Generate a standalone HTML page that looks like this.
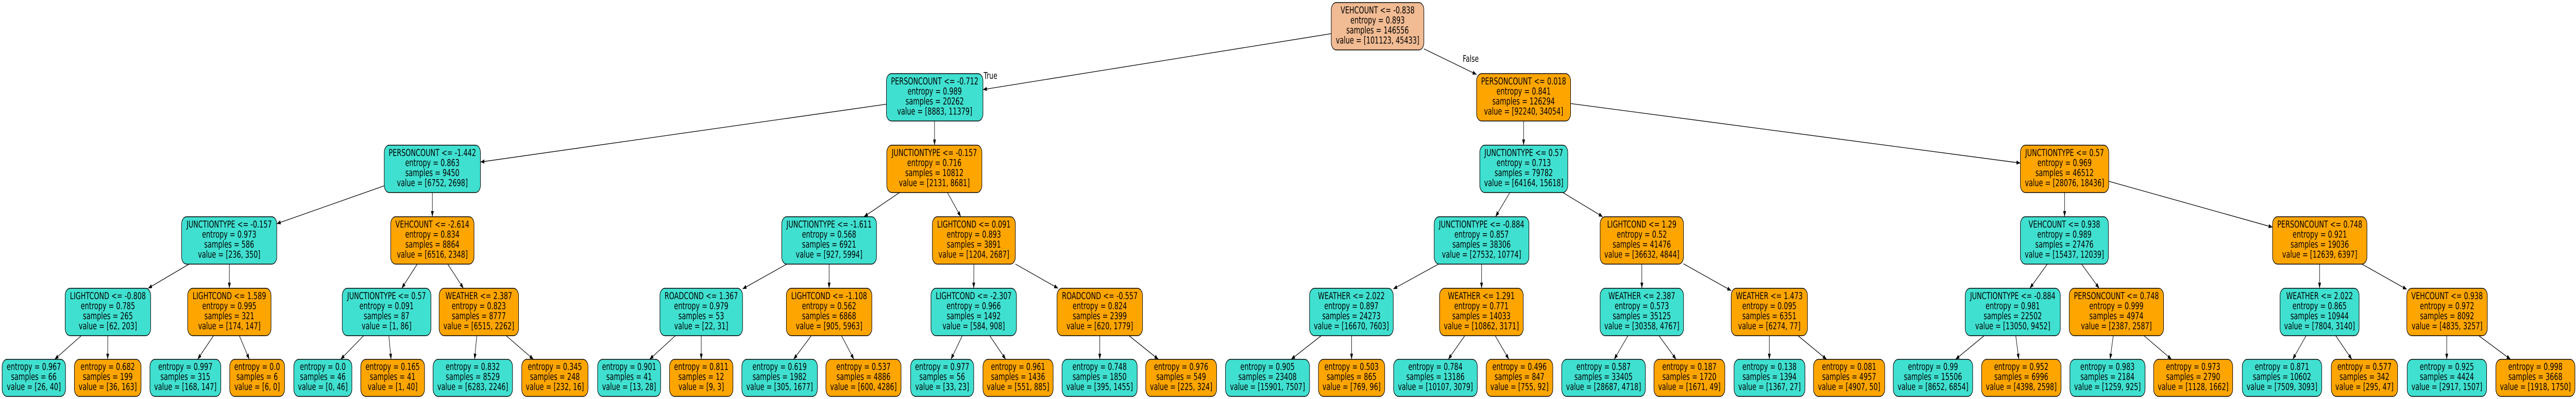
<!DOCTYPE html>
<html><head><meta charset="utf-8"><meta name="viewport" content="width=7233">
<style>
html,body{margin:0;padding:0;background:#fff;overflow:hidden;width:100vw;height:100vh;}
svg{display:block;position:absolute;left:0;top:0;width:100vw;height:100vh;}
text{font-family:"DejaVu Sans","Liberation Sans",sans-serif;font-size:18.6px;fill:#000;text-anchor:middle;}
.t{fill:#40e0d0;stroke:#000;stroke-width:1.4;}
.o{fill:#ffa500;stroke:#000;stroke-width:1.4;}
.r{fill:#f1bb93;stroke:#000;stroke-width:1.4;}
line{stroke:#000;stroke-width:1.3;}
.lb{text-anchor:start;font-size:18px;}
</style></head><body>
<svg viewBox="0 0 7233 775" preserveAspectRatio="none" xmlns="http://www.w3.org/2000/svg">
<defs><marker id="a" markerUnits="userSpaceOnUse" markerWidth="12" markerHeight="10" refX="11" refY="4" orient="auto"><path d="M0,0 L11,4 L0,8 z" fill="#000"/></marker></defs>
<g marker-end="url(#a)">
<line x1="3738" y1="65.4" x2="2760" y2="174"/>
<line x1="3998" y1="94.8" x2="4146" y2="144.6"/>
<line x1="2489" y1="202.4" x2="1349" y2="314.7"/>
<line x1="2624" y1="235" x2="2624" y2="282"/>
<line x1="4278" y1="235" x2="4278" y2="282"/>
<line x1="4410" y1="201.1" x2="5673" y2="316.7"/>
<line x1="1079" y1="360.9" x2="777" y2="434.5"/>
<line x1="1214" y1="374" x2="1214" y2="421"/>
<line x1="2525.7" y1="374" x2="2425.8" y2="421"/>
<line x1="2660.2" y1="374" x2="2697.8" y2="421"/>
<line x1="4239.3" y1="374" x2="4199.2" y2="421"/>
<line x1="4388.2" y1="374" x2="4500.3" y2="421"/>
<line x1="5797" y1="374" x2="5797" y2="421"/>
<line x1="5921" y1="352.1" x2="6381" y2="441.3"/>
<line x1="530.8" y1="513" x2="415.7" y2="560"/>
<line x1="644" y1="513" x2="644" y2="560"/>
<line x1="1171.5" y1="513" x2="1128" y2="560"/>
<line x1="1257.2" y1="513" x2="1301.3" y2="560"/>
<line x1="2209.2" y1="513" x2="2085" y2="561.1"/>
<line x1="2328" y1="513" x2="2328" y2="560"/>
<line x1="2734.5" y1="513" x2="2734" y2="560"/>
<line x1="2851" y1="512.8" x2="2971" y2="560"/>
<line x1="4039" y1="513" x2="3912" y2="561.3"/>
<line x1="4160" y1="513" x2="4160" y2="560"/>
<line x1="4610" y1="513" x2="4610" y2="560"/>
<line x1="4727" y1="512.4" x2="4861" y2="564.5"/>
<line x1="5748.5" y1="513" x2="5699.5" y2="560"/>
<line x1="5844.8" y1="513" x2="5894.2" y2="560"/>
<line x1="6513" y1="513" x2="6513" y2="560"/>
<line x1="6631.9" y1="513" x2="6758" y2="562.1"/>
<line x1="228.3" y1="652" x2="153.4" y2="698"/>
<line x1="302.6" y1="652" x2="302.3" y2="698"/>
<line x1="599.5" y1="652" x2="554.8" y2="698"/>
<line x1="672" y1="652" x2="700.1" y2="698"/>
<line x1="1021.1" y1="652" x2="956.4" y2="698"/>
<line x1="1091.8" y1="652" x2="1098.1" y2="698"/>
<line x1="1338.6" y1="652" x2="1332.6" y2="698"/>
<line x1="1421.1" y1="652" x2="1498" y2="698"/>
<line x1="1896.5" y1="652" x2="1823.8" y2="698"/>
<line x1="1969" y1="652" x2="1969" y2="698"/>
<line x1="2278.1" y1="652" x2="2228.1" y2="698"/>
<line x1="2362.8" y1="652" x2="2397.7" y2="698"/>
<line x1="2702" y1="652" x2="2670" y2="698"/>
<line x1="2778.9" y1="652" x2="2823.9" y2="698"/>
<line x1="3088" y1="652" x2="3088" y2="698"/>
<line x1="3170.2" y1="652" x2="3252.6" y2="698"/>
<line x1="3710" y1="652" x2="3625.2" y2="698"/>
<line x1="3795" y1="652" x2="3795" y2="698"/>
<line x1="4113" y1="652" x2="4066.4" y2="698"/>
<line x1="4198.1" y1="652" x2="4236.8" y2="698"/>
<line x1="4571.2" y1="652" x2="4532.3" y2="698"/>
<line x1="4658.1" y1="652" x2="4706.3" y2="698"/>
<line x1="4968" y1="652" x2="4968" y2="698"/>
<line x1="5048.4" y1="652" x2="5129" y2="698"/>
<line x1="5571.3" y1="652" x2="5490.8" y2="698"/>
<line x1="5659.9" y1="652" x2="5668.4" y2="698"/>
<line x1="5933.7" y1="652" x2="5924.9" y2="698"/>
<line x1="6019.9" y1="652" x2="6097.4" y2="698"/>
<line x1="6475.3" y1="652" x2="6437.5" y2="698"/>
<line x1="6558.2" y1="652" x2="6603.6" y2="698"/>
<line x1="6870" y1="652" x2="6870" y2="698"/>
<line x1="6960" y1="652" x2="7049.3" y2="698"/>
</g>
<text class="lb" x="2762" y="153">True</text>
<text class="lb" x="4107" y="120">False</text>

<rect class="r" x="3738" y="5" width="260" height="92" rx="14"/>
<text x="3868" y="26">VEHCOUNT &lt;= -0.838</text><text x="3868" y="45.5">entropy = 0.893</text><text x="3868" y="65">samples = 146556</text><text x="3868" y="84.5">value = [101123, 45433]</text>

<rect class="t" x="2489" y="143" width="271" height="92" rx="14"/>
<text x="2624.5" y="164">PERSONCOUNT &lt;= -0.712</text><text x="2624.5" y="183.5">entropy = 0.989</text><text x="2624.5" y="203">samples = 20262</text><text x="2624.5" y="222.5">value = [8883, 11379]</text>
<rect class="o" x="4146" y="143" width="264" height="92" rx="14"/>
<text x="4278" y="164">PERSONCOUNT &lt;= 0.018</text><text x="4278" y="183.5">entropy = 0.841</text><text x="4278" y="203">samples = 126294</text><text x="4278" y="222.5">value = [92240, 34054]</text>

<rect class="t" x="1079" y="282" width="270" height="92" rx="14"/>
<text x="1214" y="303">PERSONCOUNT &lt;= -1.442</text><text x="1214" y="322.5">entropy = 0.863</text><text x="1214" y="342">samples = 9450</text><text x="1214" y="361.5">value = [6752, 2698]</text>
<rect class="o" x="2490" y="282" width="267" height="92" rx="14"/>
<text x="2623.5" y="303">JUNCTIONTYPE &lt;= -0.157</text><text x="2623.5" y="322.5">entropy = 0.716</text><text x="2623.5" y="342">samples = 10812</text><text x="2623.5" y="361.5">value = [2131, 8681]</text>
<rect class="t" x="4155" y="282" width="247" height="92" rx="14"/>
<text x="4278.5" y="303">JUNCTIONTYPE &lt;= 0.57</text><text x="4278.5" y="322.5">entropy = 0.713</text><text x="4278.5" y="342">samples = 79782</text><text x="4278.5" y="361.5">value = [64164, 15618]</text>
<rect class="o" x="5673" y="282" width="248" height="92" rx="14"/>
<text x="5797" y="303">JUNCTIONTYPE &lt;= 0.57</text><text x="5797" y="322.5">entropy = 0.969</text><text x="5797" y="342">samples = 46512</text><text x="5797" y="361.5">value = [28076, 18436]</text>

<rect class="t" x="510" y="421" width="267" height="92" rx="14"/>
<text x="643.5" y="442">JUNCTIONTYPE &lt;= -0.157</text><text x="643.5" y="461.5">entropy = 0.973</text><text x="643.5" y="481">samples = 586</text><text x="643.5" y="500.5">value = [236, 350]</text>
<rect class="o" x="1097" y="421" width="234" height="92" rx="14"/>
<text x="1214" y="442">VEHCOUNT &lt;= -2.614</text><text x="1214" y="461.5">entropy = 0.834</text><text x="1214" y="481">samples = 8864</text><text x="1214" y="500.5">value = [6516, 2348]</text>
<rect class="t" x="2195" y="421" width="266" height="92" rx="14"/>
<text x="2328" y="442">JUNCTIONTYPE &lt;= -1.611</text><text x="2328" y="461.5">entropy = 0.568</text><text x="2328" y="481">samples = 6921</text><text x="2328" y="500.5">value = [927, 5994]</text>
<rect class="o" x="2618" y="421" width="233" height="92" rx="14"/>
<text x="2734.5" y="442">LIGHTCOND &lt;= 0.091</text><text x="2734.5" y="461.5">entropy = 0.893</text><text x="2734.5" y="481">samples = 3891</text><text x="2734.5" y="500.5">value = [1204, 2687]</text>
<rect class="t" x="4027" y="421" width="266" height="92" rx="14"/>
<text x="4160" y="442">JUNCTIONTYPE &lt;= -0.884</text><text x="4160" y="461.5">entropy = 0.857</text><text x="4160" y="481">samples = 38306</text><text x="4160" y="500.5">value = [27532, 10774]</text>
<rect class="o" x="4493" y="421" width="234" height="92" rx="14"/>
<text x="4610" y="442">LIGHTCOND &lt;= 1.29</text><text x="4610" y="461.5">entropy = 0.52</text><text x="4610" y="481">samples = 41476</text><text x="4610" y="500.5">value = [36632, 4844]</text>
<rect class="t" x="5673" y="421" width="247" height="92" rx="14"/>
<text x="5796.5" y="442">VEHCOUNT &lt;= 0.938</text><text x="5796.5" y="461.5">entropy = 0.989</text><text x="5796.5" y="481">samples = 27476</text><text x="5796.5" y="500.5">value = [15437, 12039]</text>
<rect class="o" x="6381" y="421" width="265" height="92" rx="14"/>
<text x="6513.5" y="442">PERSONCOUNT &lt;= 0.748</text><text x="6513.5" y="461.5">entropy = 0.921</text><text x="6513.5" y="481">samples = 19036</text><text x="6513.5" y="500.5">value = [12639, 6397]</text>

<rect class="t" x="183" y="560" width="240" height="92" rx="14"/>
<text x="303" y="581">LIGHTCOND &lt;= -0.808</text><text x="303" y="600.5">entropy = 0.785</text><text x="303" y="620">samples = 265</text><text x="303" y="639.5">value = [62, 203]</text>
<rect class="o" x="527" y="560" width="234" height="92" rx="14"/>
<text x="644" y="581">LIGHTCOND &lt;= 1.589</text><text x="644" y="600.5">entropy = 0.995</text><text x="644" y="620">samples = 321</text><text x="644" y="639.5">value = [174, 147]</text>
<rect class="t" x="961" y="560" width="249" height="92" rx="14"/>
<text x="1085.5" y="581">JUNCTIONTYPE &lt;= 0.57</text><text x="1085.5" y="600.5">entropy = 0.091</text><text x="1085.5" y="620">samples = 87</text><text x="1085.5" y="639.5">value = [1, 86]</text>
<rect class="o" x="1233" y="560" width="223" height="92" rx="14"/>
<text x="1344.5" y="581">WEATHER &lt;= 2.387</text><text x="1344.5" y="600.5">entropy = 0.823</text><text x="1344.5" y="620">samples = 8777</text><text x="1344.5" y="639.5">value = [6515, 2262]</text>
<rect class="t" x="1853" y="560" width="232" height="92" rx="14"/>
<text x="1969" y="581">ROADCOND &lt;= 1.367</text><text x="1969" y="600.5">entropy = 0.979</text><text x="1969" y="620">samples = 53</text><text x="1969" y="639.5">value = [22, 31]</text>
<rect class="o" x="2208" y="560" width="240" height="92" rx="14"/>
<text x="2328" y="581">LIGHTCOND &lt;= -1.108</text><text x="2328" y="600.5">entropy = 0.562</text><text x="2328" y="620">samples = 6868</text><text x="2328" y="639.5">value = [905, 5963]</text>
<rect class="t" x="2614" y="560" width="240" height="92" rx="14"/>
<text x="2734" y="581">LIGHTCOND &lt;= -2.307</text><text x="2734" y="600.5">entropy = 0.966</text><text x="2734" y="620">samples = 1492</text><text x="2734" y="639.5">value = [584, 908]</text>
<rect class="o" x="2968" y="560" width="240" height="92" rx="14"/>
<text x="3088" y="581">ROADCOND &lt;= -0.557</text><text x="3088" y="600.5">entropy = 0.824</text><text x="3088" y="620">samples = 2399</text><text x="3088" y="639.5">value = [620, 1779]</text>
<rect class="t" x="3677" y="560" width="235" height="92" rx="14"/>
<text x="3794.5" y="581">WEATHER &lt;= 2.022</text><text x="3794.5" y="600.5">entropy = 0.897</text><text x="3794.5" y="620">samples = 24273</text><text x="3794.5" y="639.5">value = [16670, 7603]</text>
<rect class="o" x="4042" y="560" width="235" height="92" rx="14"/>
<text x="4159.5" y="581">WEATHER &lt;= 1.291</text><text x="4159.5" y="600.5">entropy = 0.771</text><text x="4159.5" y="620">samples = 14033</text><text x="4159.5" y="639.5">value = [10862, 3171]</text>
<rect class="t" x="4493" y="560" width="234" height="92" rx="14"/>
<text x="4610" y="581">WEATHER &lt;= 2.387</text><text x="4610" y="600.5">entropy = 0.573</text><text x="4610" y="620">samples = 35125</text><text x="4610" y="639.5">value = [30358, 4767]</text>
<rect class="o" x="4861" y="560" width="214" height="92" rx="14"/>
<text x="4968" y="581">WEATHER &lt;= 1.473</text><text x="4968" y="600.5">entropy = 0.095</text><text x="4968" y="620">samples = 6351</text><text x="4968" y="639.5">value = [6274, 77]</text>
<rect class="t" x="5518" y="560" width="267" height="92" rx="14"/>
<text x="5651.5" y="581">JUNCTIONTYPE &lt;= -0.884</text><text x="5651.5" y="600.5">entropy = 0.981</text><text x="5651.5" y="620">samples = 22502</text><text x="5651.5" y="639.5">value = [13050, 9452]</text>
<rect class="o" x="5810" y="560" width="265" height="92" rx="14"/>
<text x="5942.5" y="581">PERSONCOUNT &lt;= 0.748</text><text x="5942.5" y="600.5">entropy = 0.999</text><text x="5942.5" y="620">samples = 4974</text><text x="5942.5" y="639.5">value = [2387, 2587]</text>
<rect class="t" x="6402" y="560" width="222" height="92" rx="14"/>
<text x="6513" y="581">WEATHER &lt;= 2.022</text><text x="6513" y="600.5">entropy = 0.865</text><text x="6513" y="620">samples = 10944</text><text x="6513" y="639.5">value = [7804, 3140]</text>
<rect class="o" x="6758" y="560" width="226" height="92" rx="14"/>
<text x="6871" y="581">VEHCOUNT &lt;= 0.938</text><text x="6871" y="600.5">entropy = 0.972</text><text x="6871" y="620">samples = 8092</text><text x="6871" y="639.5">value = [4835, 3257]</text>

<rect class="t" x="6" y="698" width="178" height="72" rx="14"/>
<text x="95" y="718.5">entropy = 0.967</text><text x="95" y="738">samples = 66</text><text x="95" y="757.5">value = [26, 40]</text>
<rect class="o" x="209" y="698" width="187" height="72" rx="14"/>
<text x="302.5" y="718.5">entropy = 0.682</text><text x="302.5" y="738">samples = 199</text><text x="302.5" y="757.5">value = [36, 163]</text>
<rect class="t" x="421" y="698" width="199" height="72" rx="14"/>
<text x="520.5" y="718.5">entropy = 0.997</text><text x="520.5" y="738">samples = 315</text><text x="520.5" y="757.5">value = [168, 147]</text>
<rect class="o" x="645" y="698" width="154" height="72" rx="14"/>
<text x="722" y="718.5">entropy = 0.0</text><text x="722" y="738">samples = 6</text><text x="722" y="757.5">value = [6, 0]</text>
<rect class="t" x="825" y="698" width="163" height="72" rx="14"/>
<text x="906.5" y="718.5">entropy = 0.0</text><text x="906.5" y="738">samples = 46</text><text x="906.5" y="757.5">value = [0, 46]</text>
<rect class="o" x="1013" y="698" width="179" height="72" rx="14"/>
<text x="1102.5" y="718.5">entropy = 0.165</text><text x="1102.5" y="738">samples = 41</text><text x="1102.5" y="757.5">value = [1, 40]</text>
<rect class="t" x="1216" y="698" width="223" height="72" rx="14"/>
<text x="1327.5" y="718.5">entropy = 0.832</text><text x="1327.5" y="738">samples = 8529</text><text x="1327.5" y="757.5">value = [6283, 2246]</text>
<rect class="o" x="1465" y="698" width="186" height="72" rx="14"/>
<text x="1558" y="718.5">entropy = 0.345</text><text x="1558" y="738">samples = 248</text><text x="1558" y="757.5">value = [232, 16]</text>
<rect class="t" x="1678" y="698" width="177" height="72" rx="14"/>
<text x="1766.5" y="718.5">entropy = 0.901</text><text x="1766.5" y="738">samples = 41</text><text x="1766.5" y="757.5">value = [13, 28]</text>
<rect class="o" x="1880" y="698" width="178" height="72" rx="14"/>
<text x="1969" y="718.5">entropy = 0.811</text><text x="1969" y="738">samples = 12</text><text x="1969" y="757.5">value = [9, 3]</text>
<rect class="t" x="2083" y="698" width="212" height="72" rx="14"/>
<text x="2189" y="718.5">entropy = 0.619</text><text x="2189" y="738">samples = 1982</text><text x="2189" y="757.5">value = [305, 1677]</text>
<rect class="o" x="2319" y="698" width="211" height="72" rx="14"/>
<text x="2424.5" y="718.5">entropy = 0.537</text><text x="2424.5" y="738">samples = 4886</text><text x="2424.5" y="757.5">value = [600, 4286]</text>
<rect class="t" x="2557" y="698" width="177" height="72" rx="14"/>
<text x="2645.5" y="718.5">entropy = 0.977</text><text x="2645.5" y="738">samples = 56</text><text x="2645.5" y="757.5">value = [33, 23]</text>
<rect class="o" x="2760" y="698" width="197" height="72" rx="14"/>
<text x="2858.5" y="718.5">entropy = 0.961</text><text x="2858.5" y="738">samples = 1436</text><text x="2858.5" y="757.5">value = [551, 885]</text>
<rect class="t" x="2982" y="698" width="211" height="72" rx="14"/>
<text x="3087.5" y="718.5">entropy = 0.748</text><text x="3087.5" y="738">samples = 1850</text><text x="3087.5" y="757.5">value = [395, 1455]</text>
<rect class="o" x="3217" y="698" width="199" height="72" rx="14"/>
<text x="3316.5" y="718.5">entropy = 0.976</text><text x="3316.5" y="738">samples = 549</text><text x="3316.5" y="757.5">value = [225, 324]</text>
<rect class="t" x="3441" y="698" width="236" height="72" rx="14"/>
<text x="3559" y="718.5">entropy = 0.905</text><text x="3559" y="738">samples = 23408</text><text x="3559" y="757.5">value = [15901, 7507]</text>
<rect class="o" x="3702" y="698" width="186" height="72" rx="14"/>
<text x="3795" y="718.5">entropy = 0.503</text><text x="3795" y="738">samples = 865</text><text x="3795" y="757.5">value = [769, 96]</text>
<rect class="t" x="3913" y="698" width="235" height="72" rx="14"/>
<text x="4030.5" y="718.5">entropy = 0.784</text><text x="4030.5" y="738">samples = 13186</text><text x="4030.5" y="757.5">value = [10107, 3079]</text>
<rect class="o" x="4173" y="698" width="187" height="72" rx="14"/>
<text x="4266.5" y="718.5">entropy = 0.496</text><text x="4266.5" y="738">samples = 847</text><text x="4266.5" y="757.5">value = [755, 92]</text>
<rect class="t" x="4385" y="698" width="235" height="72" rx="14"/>
<text x="4502.5" y="718.5">entropy = 0.587</text><text x="4502.5" y="738">samples = 33405</text><text x="4502.5" y="757.5">value = [28687, 4718]</text>
<rect class="o" x="4644" y="698" width="199" height="72" rx="14"/>
<text x="4743.5" y="718.5">entropy = 0.187</text><text x="4743.5" y="738">samples = 1720</text><text x="4743.5" y="757.5">value = [1671, 49]</text>
<rect class="t" x="4869" y="698" width="199" height="72" rx="14"/>
<text x="4968.5" y="718.5">entropy = 0.138</text><text x="4968.5" y="738">samples = 1394</text><text x="4968.5" y="757.5">value = [1367, 27]</text>
<rect class="o" x="5092" y="698" width="200" height="72" rx="14"/>
<text x="5192" y="718.5">entropy = 0.081</text><text x="5192" y="738">samples = 4957</text><text x="5192" y="757.5">value = [4907, 50]</text>
<rect class="t" x="5316" y="698" width="223" height="72" rx="14"/>
<text x="5427.5" y="718.5">entropy = 0.99</text><text x="5427.5" y="738">samples = 15506</text><text x="5427.5" y="757.5">value = [8652, 6854]</text>
<rect class="o" x="5564" y="698" width="223" height="72" rx="14"/>
<text x="5675.5" y="718.5">entropy = 0.952</text><text x="5675.5" y="738">samples = 6996</text><text x="5675.5" y="757.5">value = [4398, 2598]</text>
<rect class="t" x="5812" y="698" width="211" height="72" rx="14"/>
<text x="5917.5" y="718.5">entropy = 0.983</text><text x="5917.5" y="738">samples = 2184</text><text x="5917.5" y="757.5">value = [1259, 925]</text>
<rect class="o" x="6047" y="698" width="222" height="72" rx="14"/>
<text x="6158" y="718.5">entropy = 0.973</text><text x="6158" y="738">samples = 2790</text><text x="6158" y="757.5">value = [1128, 1662]</text>
<rect class="t" x="6296" y="698" width="223" height="72" rx="14"/>
<text x="6407.5" y="718.5">entropy = 0.871</text><text x="6407.5" y="738">samples = 10602</text><text x="6407.5" y="757.5">value = [7509, 3093]</text>
<rect class="o" x="6546" y="698" width="186" height="72" rx="14"/>
<text x="6639" y="718.5">entropy = 0.577</text><text x="6639" y="738">samples = 342</text><text x="6639" y="757.5">value = [295, 47]</text>
<rect class="t" x="6759" y="698" width="223" height="72" rx="14"/>
<text x="6870.5" y="718.5">entropy = 0.925</text><text x="6870.5" y="738">samples = 4424</text><text x="6870.5" y="757.5">value = [2917, 1507]</text>
<rect class="o" x="7008" y="698" width="222" height="72" rx="14"/>
<text x="7119" y="718.5">entropy = 0.998</text><text x="7119" y="738">samples = 3668</text><text x="7119" y="757.5">value = [1918, 1750]</text>
</svg>
</body></html>
